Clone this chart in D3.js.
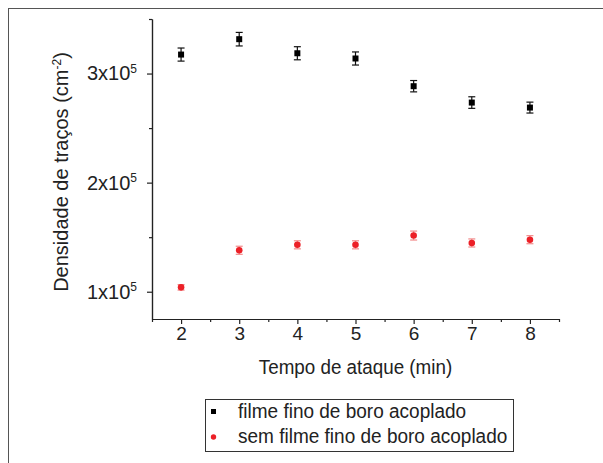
<!DOCTYPE html>
<html>
<head>
<meta charset="utf-8">
<script src="https://cdn.jsdelivr.net/npm/d3@7"></script>
<style>
  body { margin: 0; background: #fff; }
  svg { display: block; }
  text { font-family: "Liberation Sans Narrow", "Arial Narrow", "Liberation Sans", sans-serif; fill: #222; }
</style>
</head>
<body>
<svg id="chart" width="603" height="463"></svg>
<script>
// tempo de ataque (min)
const tempo = [2, 3, 4, 5, 6, 7, 8]
// densidade de tracos, com filme fino de boro acoplado
const comFilme = [317400, 331500, 318600, 313800, 288400, 273400, 268800]
const comFilmeErr = [6000, 6200, 6000, 6000, 5200, 5300, 5000]
// sem filme fino de boro acoplado
const semFilme = [104000, 138000, 143000, 143000, 151500, 144700, 147700]
const semFilmeErr = [2500, 3700, 3700, 3700, 4100, 3700, 3700]

const yTicks = [100000, 200000, 300000]
const yMinor = [150000, 250000, 350000]
const xTicks = [2, 3, 4, 5, 6, 7, 8]
const xMinor = [1.5, 2.5, 3.5, 4.5, 5.5, 6.5, 7.5, 8.5]
const seriesNames = ["filme fino de boro acoplado", "sem filme fino de boro acoplado"]

const svg = d3.select("#chart")
const margin = { top: 19, right: 44, bottom: 144, left: 152 }
const W = 603, H = 463

// squeeze text horizontally a bit, the original font is a condensed one
function squeeze(sel, k) {
    sel.each(function () {
        const len = this.getComputedTextLength()
        d3.select(this).attr("textLength", len * k).attr("lengthAdjust", "spacingAndGlyphs")
    })
}

// outer frame (cut by the picture on right and bottom)
svg.append("rect")
    .attr("x", 8.5).attr("y", 8.5)
    .attr("width", 620).attr("height", 480)
    .attr("fill", "none").attr("stroke", "#555").attr("stroke-width", 1)

const x = d3.scaleLinear().domain([1.5, 8.5]).range([margin.left, W - margin.right])
const y = d3.scaleLinear().domain([75000, 350000]).range([H - margin.bottom, margin.top])

// x axis
const gx = svg.append("g").attr("transform", "translate(0," + (H - margin.bottom) + ")")
gx.call(d3.axisBottom(x).tickValues(xMinor).tickSize(3).tickFormat("").tickSizeOuter(0))
const gx2 = svg.append("g").attr("transform", "translate(0," + (H - margin.bottom) + ")")
gx2.call(d3.axisBottom(x).tickValues(xTicks).tickSize(5).tickPadding(3).tickSizeOuter(0).tickFormat(d3.format("d")))
gx2.selectAll("text").attr("font-size", 19)

// y axis
const gy = svg.append("g").attr("transform", "translate(" + margin.left + ",0)")
gy.call(d3.axisLeft(y).tickValues(yMinor).tickSize(3).tickFormat("").tickSizeOuter(0))
const gy2 = svg.append("g").attr("transform", "translate(" + margin.left + ",0)")
gy2.call(d3.axisLeft(y).tickValues(yTicks).tickSize(5).tickPadding(10).tickSizeOuter(0)
    .tickFormat(d => (d / 100000) + "x10"))
gy2.selectAll(".tick text").attr("font-size", 20)
    .append("tspan").attr("dy", "-0.6em").attr("font-size", 12).text("5")

svg.selectAll(".domain, .tick line").attr("stroke", "#222").attr("stroke-width", 1.2)
svg.selectAll(".tick text").attr("fill", "#222")

// axis titles
svg.append("text")
    .attr("x", x(5)).attr("y", 374)
    .attr("text-anchor", "middle").attr("font-size", 20)
    .text("Tempo de ataque (min)")
    .call(squeeze, 0.94)

const yt = svg.append("text")
    .attr("transform", "translate(68," + 172 + ") rotate(-90)")
    .attr("text-anchor", "middle").attr("font-size", 20)
yt.append("tspan").text("Densidade de traços (cm")
yt.append("tspan").attr("dy", "-0.6em").attr("font-size", 12).text("-2")
yt.append("tspan").attr("dy", "0.36em").text(")")

// error bars
function errorBars(vals, errs, color) {
    const g = svg.append("g").attr("stroke", color).attr("stroke-width", 1.2)
    tempo.forEach((t, i) => {
        const cx = x(t), top = y(vals[i] + errs[i]), bot = y(vals[i] - errs[i])
        g.append("line").attr("x1", cx).attr("x2", cx).attr("y1", top).attr("y2", bot)
        g.append("line").attr("x1", cx - 3.5).attr("x2", cx + 3.5).attr("y1", top).attr("y2", top)
        g.append("line").attr("x1", cx - 3.5).attr("x2", cx + 3.5).attr("y1", bot).attr("y2", bot)
    })
}
errorBars(comFilme, comFilmeErr, "#111")
errorBars(semFilme, semFilmeErr, "#f28a8a")

svg.append("g").selectAll("rect")
    .data(tempo)
    .join("rect")
    .attr("x", (d, i) => x(d) - 3)
    .attr("y", (d, i) => y(comFilme[i]) - 3)
    .attr("width", 6).attr("height", 6)
    .attr("fill", "#000")

svg.append("g").selectAll("circle")
    .data(tempo)
    .join("circle")
    .attr("cx", d => x(d))
    .attr("cy", (d, i) => y(semFilme[i]))
    .attr("r", 3.3)
    .attr("fill", "#ec2027")

// legend
const lg = svg.append("g")
lg.append("rect")
    .attr("x", 205.5).attr("y", 399.5).attr("width", 308).attr("height", 52)
    .attr("fill", "#fff").attr("stroke", "#333").attr("stroke-width", 1)
lg.append("rect").attr("x", 211).attr("y", 409).attr("width", 5).attr("height", 5).attr("fill", "#000")
lg.append("circle").attr("cx", 213.5).attr("cy", 437).attr("r", 2.7).attr("fill", "#ec2027")
lg.selectAll("text.leg")
    .data(seriesNames)
    .join("text")
    .attr("class", "leg")
    .attr("x", 238)
    .attr("y", (d, i) => 418 + i * 25)
    .attr("font-size", 20)
    .text(d => d)
    .call(squeeze, 0.95)
</script>
</body>
</html>
